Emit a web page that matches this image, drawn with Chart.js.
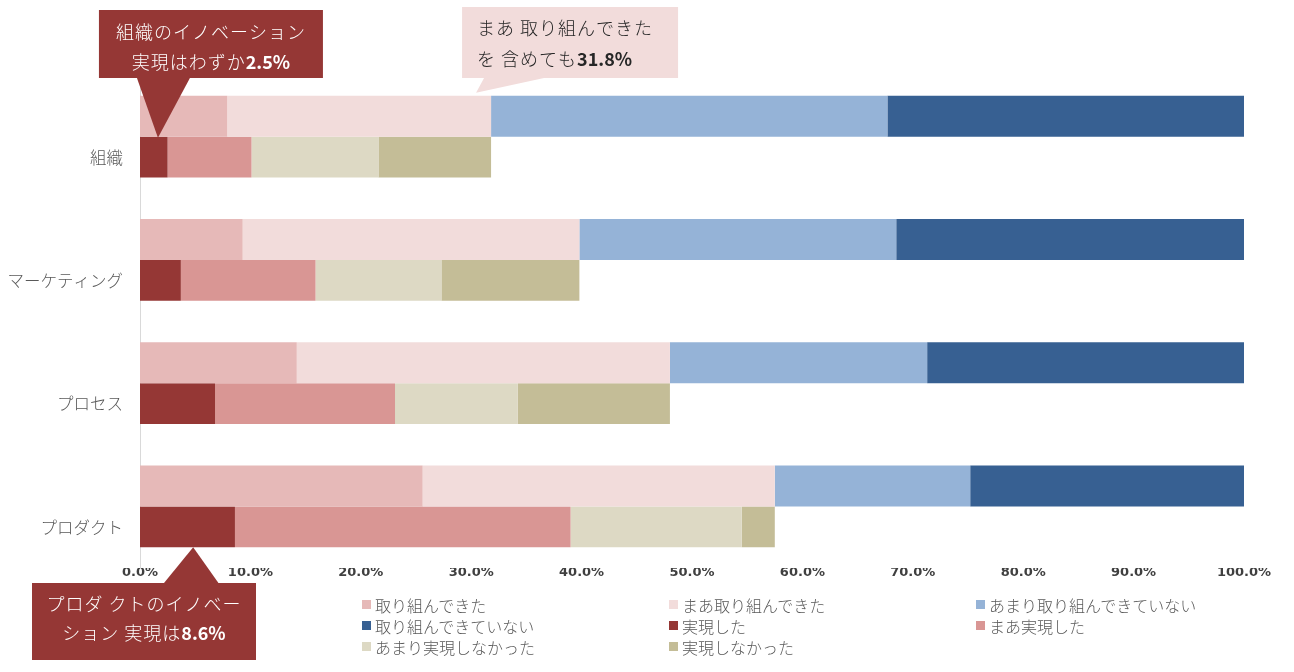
<!DOCTYPE html>
<html>
<head>
<meta charset="utf-8">
<script src="https://cdn.jsdelivr.net/npm/chart.js@4.4.1/dist/chart.umd.min.js"></script>
<style>
  html, body { margin: 0; padding: 0; background: #fff; }
  #wrap { position: relative; width: 1294px; height: 672px; }
  #legend {
    position: absolute; left: 362px; top: 594px;
    display: grid; grid-template-columns: 307px 307px 307px;
    grid-auto-rows: 21px;
    font-family: "Noto Sans CJK JP", sans-serif; font-size: 16px; font-weight: 300; color: #595959;
  }
  #legend .item { display: flex; align-items: center; white-space: nowrap; }
  #legend .box { width: 9px; height: 9px; margin-right: 4px; flex: none; }
</style>
</head>
<body>
<div id="wrap">
  <canvas id="chart"></canvas>
  <div id="legend"></div>
</div>
<script>
var categories = ['組織', 'マーケティング', 'プロセス', 'プロダクト'];

// upper bars: 取り組み状況 (%)
var tried = [7.9, 9.3, 14.2, 25.6];
var somewhatTried = [23.9, 30.5, 33.8, 31.9];
var littleTried = [35.9, 28.7, 23.3, 17.7];
var notTried = [32.3, 31.5, 28.7, 24.8];

// lower bars: 実現状況 (%)
var realized = [2.5, 3.7, 6.8, 8.6];
var somewhatRealized = [7.6, 12.2, 16.3, 30.4];
var littleRealized = [11.5, 11.4, 11.1, 15.5];
var notRealized = [10.2, 12.5, 13.8, 3.0];

var xTicks = [0, 10, 20, 30, 40, 50, 60, 70, 80, 90, 100];

var JP = '"Noto Sans CJK JP", sans-serif';

function ds(label, data, color, stack) {
    return { label: label, data: data, backgroundColor: color, stack: stack, borderWidth: 0 };
}

// callout boxes drawn on top of the bars
function drawCallout(ctx, c) {
    ctx.save();
    ctx.fillStyle = c.fill;
    ctx.beginPath();
    ctx.rect(c.x, c.y, c.w, c.h);
    ctx.fill();
    ctx.beginPath();
    ctx.moveTo(c.base[0], c.base[1]);
    ctx.lineTo(c.base[2], c.base[3]);
    ctx.lineTo(c.tip[0], c.tip[1]);
    ctx.closePath();
    ctx.fill();
    ctx.fillStyle = c.color;
    ctx.textBaseline = 'middle';
    ctx.textAlign = 'left';
    var reg = '300 18px ' + JP, bold = 'bold 18px ' + JP;
    c.lines.forEach(function (ln, i) {
        var y = c.y + c.lineY[i];
        ctx.font = reg;
        ctx.letterSpacing = '1px';
        var w1 = ctx.measureText(ln[0]).width;
        ctx.font = bold;
        ctx.letterSpacing = '0px';
        var w2 = ln[1] ? ctx.measureText(ln[1]).width : 0;
        var x = c.align === 'center' ? c.x + (c.w - w1 - w2) / 2 : c.x + c.pad;
        ctx.font = reg;
        ctx.letterSpacing = '1px';
        ctx.fillText(ln[0], x, y);
        if (ln[1]) {
            ctx.font = bold;
            ctx.letterSpacing = '0px';
            ctx.fillText(ln[1], x + w1, y);
        }
    });
    ctx.restore();
}

var calloutPlugin = {
    id: 'callouts',
    afterDraw: function (chart) {
        var ctx = chart.ctx;
        // 組織: 実現した bar
        var b1 = chart.getDatasetMeta(4).data[0];
        var t1x = b1.base + (b1.x - b1.base) * 0.65, t1y = b1.y - b1.height / 2 + 1;
        drawCallout(ctx, {
            x: t1x - 59, y: 10, w: 224, h: 68, fill: '#953735', color: '#ffffff', align: 'center',
            base: [t1x - 21, 78, t1x + 32, 78], tip: [t1x, t1y],
            lines: [['組織のイノベーション', ''], ['実現はわずか', '2.5%']], lineY: [22, 52]
        });
        // 組織: まあ取り組んできた bar end
        var b2 = chart.getDatasetMeta(1).data[0];
        var t2x = b2.x - 15, t2y = b2.y - b2.height / 2 - 3;
        drawCallout(ctx, {
            x: t2x - 14, y: 7, w: 216, h: 71, fill: '#F2DCDB', color: '#262626', align: 'left', pad: 15,
            base: [t2x + 8, 78, t2x + 68, 78], tip: [t2x, t2y],
            lines: [['まあ 取り組んできた', ''], ['を 含めても', '31.8%']], lineY: [21, 52]
        });
        // プロダクト: 実現した bar
        var b3 = chart.getDatasetMeta(4).data[3];
        var t3x = b3.base + (b3.x - b3.base) * 0.56, t3y = b3.y + b3.height / 2;
        drawCallout(ctx, {
            x: 32, y: 583, w: 224, h: 77, fill: '#953735', color: '#ffffff', align: 'center',
            base: [t3x - 30, 584, t3x + 26, 584], tip: [t3x, t3y],
            lines: [['プロダ クトのイノベー', ''], ['ション 実現は', '8.6%']], lineY: [21, 50]
        });
    }
};

var ctx = document.getElementById('chart').getContext('2d');
var chart = new Chart(ctx, {
    type: 'bar',
    data: {
        labels: categories,
        datasets: [
            ds('取り組んできた', tried, '#E6B9B8', 'a'),
            ds('まあ取り組んできた', somewhatTried, '#F2DCDB', 'a'),
            ds('あまり取り組んできていない', littleTried, '#95B3D7', 'a'),
            ds('取り組んできていない', notTried, '#376092', 'a'),
            ds('実現した', realized, '#953735', 'b'),
            ds('まあ実現した', somewhatRealized, '#D99694', 'b'),
            ds('あまり実現しなかった', littleRealized, '#DDD9C4', 'b'),
            ds('実現しなかった', notRealized, '#C4BD97', 'b')
        ]
    },
    options: {
        indexAxis: 'y',
        responsive: true,
        maintainAspectRatio: false,
        animation: false,
        devicePixelRatio: 1,
        categoryPercentage: 0.665,
        barPercentage: 1.0,
        layout: { padding: { top: 75, right: 50, left: 0, bottom: 84 } },
        plugins: {
            legend: { display: false },
            tooltip: { enabled: false }
        },
        scales: {
            x: {
                stacked: true,
                min: 0,
                max: 100,
                afterBuildTicks: function (scale) {
                    scale.ticks = xTicks.map(function (v) { return { value: v }; });
                },
                afterFit: function (scale) { scale.height = 20; },
                grid: { display: false, drawTicks: false },
                border: { display: false },
                ticks: {
                    padding: -3,
                    maxRotation: 0,
                    color: '#404040',
                    font: { family: '"DejaVu Sans", sans-serif', size: 13, weight: 'bold' },
                    callback: function (v) { return v.toFixed(1) + '%'; }
                }
            },
            y: {
                stacked: true,
                afterFit: function (scale) { scale.width = 140; },
                grid: { display: false, drawTicks: false },
                border: { display: true, color: '#D9D9D9', width: 1 },
                ticks: {
                    padding: 17,
                    labelOffset: 21,
                    color: '#595959',
                    font: { family: JP, size: 16.5, weight: 300 }
                }
            }
        }
    },
    plugins: [calloutPlugin]
});

// legend laid out in three columns like the original
var legend = document.getElementById('legend');
chart.data.datasets.forEach(function (d) {
    var item = document.createElement('div');
    item.className = 'item';
    var box = document.createElement('span');
    box.className = 'box';
    box.style.background = d.backgroundColor;
    var txt = document.createElement('span');
    txt.textContent = d.label;
    item.appendChild(box);
    item.appendChild(txt);
    legend.appendChild(item);
});
</script>
</body>
</html>
